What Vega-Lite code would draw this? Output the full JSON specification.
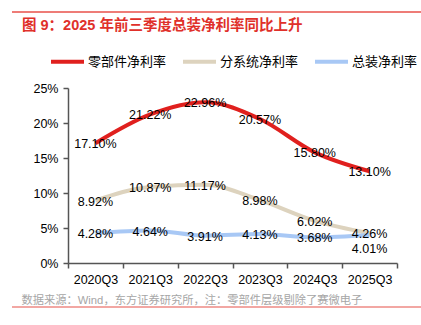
{
  "$schema": "https://vega.github.io/schema/vega-lite/v6.json",
  "autosize": {"type": "none"},
  "width": 329,
  "height": 175,
  "padding": {"left": 68, "top": 88, "right": 24, "bottom": 62},
  "background": "white",
  "config": {
    "view": {"stroke": null},
    "axis": {"domainColor": "#555555", "domainWidth": 1.5, "tickColor": "#555555", "tickWidth": 1.5, "tickSize": 5, "labelFont": "Liberation Sans", "labelFontSize": 12.5, "labelColor": "#000000", "grid": false},
    "legend": {"orient": "none", "legendX": -19, "legendY": -45, "direction": "horizontal", "title": null, "symbolType": "stroke", "symbolStrokeWidth": 4, "symbolSize": 1089, "labelFont": "Liberation Sans, Noto Sans CJK SC", "labelFontSize": 13, "labelColor": "#000000", "labelOffset": 2, "columnPadding": 8}
  },
  "title": {"text": "图 9：2025 年前三季度总装净利率同比上升", "anchor": "start", "frame": "group", "dx": -46, "offset": -22, "font": "Liberation Sans, Noto Sans CJK SC", "fontSize": 14.5, "fontWeight": "bold", "color": "#E0302A"},
  "datasets": {
    "rates": [
      {"q": "2020Q3", "s": "零部件净利率", "v": 0.1710},
      {"q": "2021Q3", "s": "零部件净利率", "v": 0.2122},
      {"q": "2022Q3", "s": "零部件净利率", "v": 0.2296},
      {"q": "2023Q3", "s": "零部件净利率", "v": 0.2057},
      {"q": "2024Q3", "s": "零部件净利率", "v": 0.1580},
      {"q": "2025Q3", "s": "零部件净利率", "v": 0.1310},
      {"q": "2020Q3", "s": "分系统净利率", "v": 0.0892},
      {"q": "2021Q3", "s": "分系统净利率", "v": 0.1087},
      {"q": "2022Q3", "s": "分系统净利率", "v": 0.1117},
      {"q": "2023Q3", "s": "分系统净利率", "v": 0.0898},
      {"q": "2024Q3", "s": "分系统净利率", "v": 0.0602},
      {"q": "2025Q3", "s": "分系统净利率", "v": 0.0426},
      {"q": "2020Q3", "s": "总装净利率", "v": 0.0428},
      {"q": "2021Q3", "s": "总装净利率", "v": 0.0464},
      {"q": "2022Q3", "s": "总装净利率", "v": 0.0391},
      {"q": "2023Q3", "s": "总装净利率", "v": 0.0413},
      {"q": "2024Q3", "s": "总装净利率", "v": 0.0368},
      {"q": "2025Q3", "s": "总装净利率", "v": 0.0401}
    ],
    "frame": [
      {"edge": "top", "from": 0, "to": 1},
      {"edge": "bottom", "from": 0, "to": 1}
    ]
  },
  "layer": [
    {
      "data": {"name": "frame"},
      "mark": {"type": "rule", "strokeWidth": 1.3, "clip": false},
      "encoding": {
        "x": {"field": "from", "type": "quantitative", "scale": {"domain": [0, 1], "range": [-56, 353]}, "axis": null},
        "x2": {"field": "to"},
        "y": {"field": "edge", "type": "nominal", "scale": {"type": "point", "domain": ["top", "bottom"], "range": [-76, 219], "padding": 0}, "axis": null},
        "color": {"field": "edge", "type": "nominal", "scale": {"domain": ["top", "bottom"], "range": ["#E8504A", "#EE8A84"]}, "legend": null}
      }
    },
    {
      "data": {"name": "rates"},
      "encoding": {
        "x": {"field": "q", "type": "ordinal", "scale": {"type": "band", "paddingInner": 0, "paddingOuter": 0},
          "axis": {"labelAngle": 0, "tickBand": "extent", "labelPadding": 5,
            "title": "数据来源：Wind，东方证券研究所，注：零部件层级剔除了赛微电子",
            "titleFont": "Liberation Sans, Noto Sans CJK SC", "titleFontSize": 11.25, "titleFontWeight": "normal", "titleColor": "#A6A6A6",
            "titleAlign": "left", "titleAnchor": "start", "titleX": -47, "titleY": 37, "titleBaseline": "middle"}},
        "y": {"field": "v", "type": "quantitative", "scale": {"domain": [0, 0.25]},
          "axis": {"title": null, "values": [0, 0.05, 0.1, 0.15, 0.2, 0.25], "format": ".0%", "labelPadding": 5}}
      },
      "layer": [
        {
          "mark": {"type": "line", "interpolate": "monotone", "strokeWidth": 4},
          "encoding": {
            "color": {"field": "s", "type": "nominal", "sort": ["零部件净利率", "分系统净利率", "总装净利率"],
              "scale": {"domain": ["零部件净利率", "分系统净利率", "总装净利率"], "range": ["#E0201E", "#DDD3BE", "#A8C8F5"]}}
          }
        },
        {
          "transform": [{"filter": "!(datum.s === '总装净利率' && datum.q === '2025Q3')"}],
          "mark": {"type": "text", "font": "Liberation Sans", "fontSize": 12.5, "color": "#000000", "baseline": "middle", "dy": 1},
          "encoding": {"text": {"field": "v", "type": "quantitative", "format": ".2%"}}
        },
        {
          "transform": [{"filter": "datum.s === '总装净利率' && datum.q === '2025Q3'"}],
          "mark": {"type": "text", "font": "Liberation Sans", "fontSize": 12.5, "color": "#000000", "baseline": "middle", "dy": 14},
          "encoding": {"text": {"field": "v", "type": "quantitative", "format": ".2%"}}
        }
      ]
    }
  ],
  "resolve": {"scale": {"x": "independent", "y": "independent", "color": "independent"}, "axis": {"x": "independent", "y": "independent"}, "legend": {"color": "independent"}}
}
